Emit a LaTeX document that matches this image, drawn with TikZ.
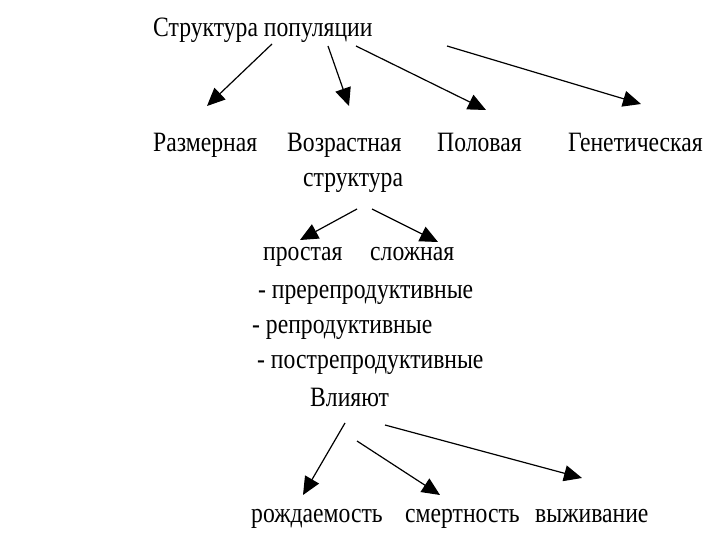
\documentclass[tikz,border=0pt]{standalone}
\usepackage{fontspec}
\setmainfont{Liberation Serif}[FakeStretch=0.845]
\usetikzlibrary{arrows.meta}
\tikzset{
  lbl/.style={anchor=base west, inner sep=0pt, font=\fontsize{28}{30}\selectfont},
  arr/.style={line width=1.2pt, -{Triangle[length=18pt,width=16pt]}}
}
\begin{document}
\begin{tikzpicture}[x=1pt,y=-1pt]
\useasboundingbox[fill=white] (0,0) rectangle (720,540);
% texts
\node[lbl] (title) at (153,37) {Структура популяции};
\node[lbl] (razm) at (153,152) {Размерная};
\node[lbl] (vozr) at (287,152) {Возрастная};
\node[lbl] (struct) at (303,187) {структура};
\node[lbl] (polov) at (437,152) {Половая};
\node[lbl] (genet) at (568,152) {Генетическая};
\node[lbl] (prost) at (263,260) {простая};
\node[lbl] (slozh) at (370,260) {сложная};
\node[lbl] (l1) at (258,298) {- пререпродуктивные};
\node[lbl] (l2) at (252,333) {- репродуктивные};
\node[lbl] (l3) at (257,368) {- пострепродуктивные};
\node[lbl] (vl) at (310,406) {Влияют};
\node[lbl] (rozh) at (251,522) {рождаемость};
\node[lbl] (smert) at (405,522) {смертность};
\node[lbl] (vyzh) at (535,522) {выживание};
% arrow end points
\coordinate (t1) at (272,44);  \coordinate (h1) at (207,106);
\coordinate (t2) at (328,46);  \coordinate (h2) at (349,106);
\coordinate (t3) at (356,46);  \coordinate (h3) at (486,110);
\coordinate (t4) at (447,46);  \coordinate (h4) at (641,104);
\coordinate (t5) at (357,209); \coordinate (h5) at (300,240);
\coordinate (t6) at (372,209); \coordinate (h6) at (438,242);
\coordinate (t7) at (345,423); \coordinate (h7) at (303,495);
\coordinate (t8) at (357,441); \coordinate (h8) at (440,495);
\coordinate (t9) at (385,425); \coordinate (h9) at (582,478);
\foreach \i in {1,...,9} {\draw[arr] (t\i) -- (h\i);}
\end{tikzpicture}
\end{document}
